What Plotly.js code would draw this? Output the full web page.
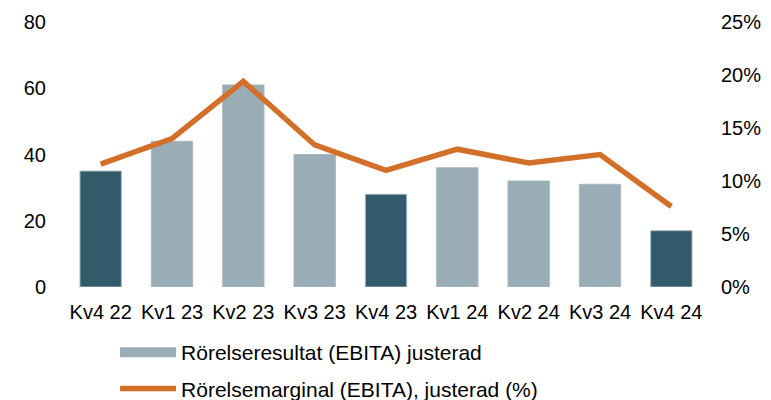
<!DOCTYPE html>
<html>
<head>
<meta charset="utf-8">
<script src="https://cdn.plot.ly/plotly-3.0.1.min.js"></script>
<style>html,body{margin:0;padding:0;background:#fff;}#chart{width:771px;height:400px;}</style>
</head>
<body>
<div id="chart"></div>
<script>
const categories = ["Kv4 22","Kv1 23","Kv2 23","Kv3 23","Kv4 23","Kv1 24","Kv2 24","Kv3 24","Kv4 24"];
const ebita = [35, 44, 61, 40, 28, 36, 32, 31, 17];
const margin = [11.6, 14.0, 19.4, 13.4, 11.0, 13.0, 11.7, 12.5, 7.6];
const barNames = ["Rörelseresultat (EBITA) justerad"];
const lineNames = ["Rörelsemarginal (EBITA), justerad (%)"];

const DARK = "#335a6b", LIGHT = "#9aacb5", ORANGE = "#d2702a";
const barColors = categories.map(c => c.startsWith("Kv4") ? DARK : LIGHT);
const font = {family: "Liberation Sans, Arial, sans-serif", size: 20, color: "#000"};
const legendFont = {family: "Liberation Sans, Arial, sans-serif", size: 21, color: "#000"};

const traces = [
  {type: "bar", x: categories, y: ebita, name: barNames[0], showlegend: false,
   marker: {color: barColors, line: {color: "#a9b9c1", width: 1}}, hoverinfo: "y"},
  {type: "scatter", mode: "lines", x: [null], y: [null], name: barNames[0],
   line: {color: LIGHT, width: 11}, legendgroup: "a", showlegend: true},
  {type: "scatter", mode: "lines", x: categories, y: margin, yaxis: "y2", name: lineNames[0],
   line: {color: ORANGE, width: 5.5}, legendgroup: "b"}
];

const layout = {
  width: 771, height: 400,
  margin: {l: 65, r: 64, t: 22, b: 113},
  paper_bgcolor: "#fff", plot_bgcolor: "#fff",
  font: font,
  bargap: 0.42,
  showlegend: true,
  legend: {orientation: "v", x: 0.078, xanchor: "left", yref: "container", y: 0.17, yanchor: "top",
           itemwidth: 56, traceorder: "grouped", tracegroupgap: 6, font: legendFont},
  xaxis: {type: "category", showgrid: false, zeroline: false, showline: false, ticks: "",
          tickfont: font, fixedrange: true, automargin: false, ticklabelstandoff: 11},
  yaxis: {range: [0, 80], dtick: 20, showgrid: false, zeroline: false, showline: false,
          ticks: "", tickfont: font, ticklabelstandoff: 18, automargin: false},
  yaxis2: {range: [0, 25], dtick: 5, overlaying: "y", side: "right", ticksuffix: "%",
           showgrid: false, zeroline: false, showline: false, ticks: "", tickfont: font,
           ticklabelstandoff: 13, automargin: false}
};

Plotly.newPlot("chart", traces, layout, {displayModeBar: false, staticPlot: true});
</script>
</body>
</html>
